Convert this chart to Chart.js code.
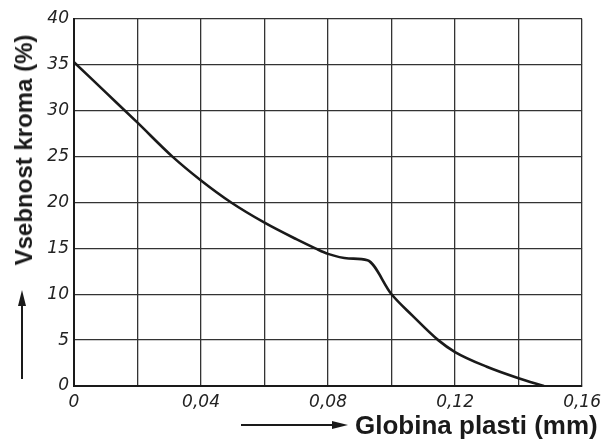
<!DOCTYPE html>
<html>
<head>
<meta charset="utf-8">
<script src="https://cdn.jsdelivr.net/npm/chart.js@4"></script>
<style>
html,body{margin:0;padding:0;background:#fff;}
#wrap{width:607px;height:441px;position:relative;overflow:hidden;}
.title{position:absolute;white-space:nowrap;font-family:'Liberation Sans',Arial,sans-serif;font-weight:bold;color:#1a1a1a;line-height:1;}
#ytitle{font-size:24px;left:24px;top:150px;transform:translate(-50%,-50%) rotate(-90deg);}
#xtitle{font-size:26px;left:355px;top:412px;}
</style>
</head>
<body>
<div id="wrap">
<canvas id="c" width="607" height="441"></canvas>
<div id="ytitle" class="title"></div>
<div id="xtitle" class="title"></div>
</div>
<script>
// Data
const depthMm = [0, 0.01, 0.02, 0.031, 0.04, 0.0495, 0.06, 0.07, 0.076, 0.08, 0.0865, 0.0924, 0.10, 0.1065, 0.1147, 0.12, 0.13, 0.14, 0.148];
const chromiumPct = [35.3, 32.0, 28.7, 25.0, 22.4, 20.0, 17.8, 16.0, 15.0, 14.4, 13.9, 13.7, 10.0, 7.7, 5.0, 3.7, 2.1, 0.85, 0.0];
const xTickLabels = ['0', '', '0,04', '', '0,08', '', '0,12', '', '0,16'];
const yTicks = [0, 5, 10, 15, 20, 25, 30, 35, 40];
const xTitle = 'Globina plasti (mm)';
const yTitle = 'Vsebnost kroma (%)';

document.getElementById('xtitle').textContent = xTitle;
document.getElementById('ytitle').textContent = yTitle;

const points = depthMm.map((x, i) => ({x: x, y: chromiumPct[i]}));
const ink = '#1a1a1a';

const arrows = {
  id: 'arrows',
  afterDraw(chart) {
    const ctx = chart.ctx;
    ctx.save();
    ctx.strokeStyle = ink;
    ctx.fillStyle = ink;
    ctx.lineWidth = 2;
    // vertical arrow beside the y title
    const vx = 22;
    ctx.beginPath(); ctx.moveTo(vx, 379); ctx.lineTo(vx, 302); ctx.stroke();
    ctx.beginPath(); ctx.moveTo(vx, 290); ctx.lineTo(vx - 4, 306); ctx.lineTo(vx + 4, 306); ctx.closePath(); ctx.fill();
    // horizontal arrow before the x title
    const hy = 425;
    ctx.beginPath(); ctx.moveTo(241, hy); ctx.lineTo(335, hy); ctx.stroke();
    ctx.beginPath(); ctx.moveTo(348, hy); ctx.lineTo(332, hy - 4); ctx.lineTo(332, hy + 4); ctx.closePath(); ctx.fill();
    ctx.restore();
  }
};

const tickFont = {family: 'DejaVu Sans', size: 17, style: 'italic'};

new Chart(document.getElementById('c'), {
  type: 'scatter',
  data: {
    datasets: [{
      data: points,
      showLine: true,
      borderColor: ink,
      borderWidth: 2.6,
      pointRadius: 0,
      cubicInterpolationMode: 'monotone',
      fill: false
    }]
  },
  options: {
    responsive: false,
    animation: false,
    layout: {padding: {top: 19, right: 24, bottom: 0, left: 0}},
    plugins: {legend: {display: false}, tooltip: {enabled: false}},
    scales: {
      x: {
        type: 'linear',
        min: 0, max: 0.16,
        afterFit(s) { s.height = 55; },
        afterBuildTicks(s) { s.ticks = xTickLabels.map((_, i) => ({value: i * 0.02})); },
        ticks: {
          autoSkip: false,
          maxRotation: 0,
          padding: 6,
          color: '#222',
          font: tickFont,
          callback: (v, i) => xTickLabels[i]
        },
        grid: {color: '#333', lineWidth: 1.3, drawTicks: false},
        border: {color: ink, width: 2}
      },
      y: {
        type: 'linear',
        min: 0, max: 40,
        afterFit(s) { s.width = 74; },
        afterBuildTicks(s) { s.ticks = yTicks.map(v => ({value: v})); },
        ticks: {
          padding: 5,
          color: '#222',
          font: tickFont,
          callback: v => String(v)
        },
        grid: {color: '#333', lineWidth: 1.3, drawTicks: false},
        border: {color: ink, width: 2}
      }
    }
  },
  plugins: [arrows]
});
</script>
</body>
</html>
